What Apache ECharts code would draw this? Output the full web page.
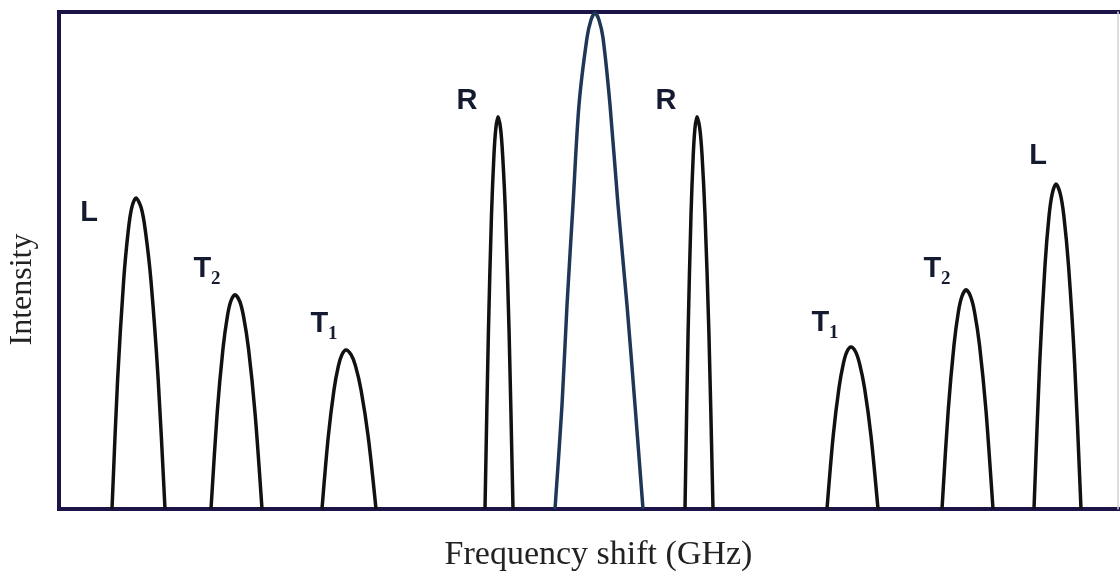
<!DOCTYPE html>
<html>
<head>
<meta charset="utf-8">
<script src="https://cdn.jsdelivr.net/npm/echarts@6/dist/echarts.min.js"></script>
<style>
html,body{margin:0;padding:0;background:#fff;}
#chart{width:1120px;height:573px;}
</style>
</head>
<body>
<div id="chart"></div>
<script>
// Frequency shift (GHz) vs intensity (% of central peak)
var peakNames = ['L', 'T2', 'T1', 'R', '', 'R', 'T1', 'T2', 'L'];

var peakL1 = [[-4.84,0],[-4.784,26.0],[-4.723,46.1],[-4.677,56.1],[-4.643,60.6],[-4.60,62.6],[-4.548,60.6],[-4.507,56.1],[-4.451,46.1],[-4.378,26.0],[-4.31,0]];
var peakT2a = [[-3.85,0],[-3.788,19.4],[-3.73,32.3],[-3.686,38.8],[-3.652,41.8],[-3.61,43.1],[-3.563,41.8],[-3.525,38.8],[-3.475,32.3],[-3.41,19.4],[-3.34,0]];
var peakT1a = [[-2.74,0],[-2.678,14.4],[-2.62,24.0],[-2.576,28.8],[-2.542,31.0],[-2.50,32.0],[-2.448,31.0],[-2.405,28.8],[-2.35,24.0],[-2.277,14.4],[-2.20,0]];
var peakRa = [[-1.11,0],[-1.076,35.5],[-1.045,59.2],[-1.021,71.0],[-1.002,76.5],[-0.98,78.9],[-0.954,76.5],[-0.933,71.0],[-0.905,59.2],[-0.869,35.5],[-0.83,0]];
var peakCenter = [[-0.41,0],[-0.34,20.9],[-0.29,41.0],[-0.23,61.2],[-0.17,81.3],[-0.09,94.8],[-0.05,98.4],[-0.01,99.8],[0.03,98.4],[0.07,94.8],[0.14,81.3],[0.22,61.2],[0.31,41.0],[0.39,20.9],[0.47,0]];
var peakRb = [[0.89,0],[0.921,35.5],[0.95,59.2],[0.972,71.0],[0.989,76.5],[1.01,78.9],[1.038,76.5],[1.061,71.0],[1.09,59.2],[1.129,35.5],[1.17,0]];
var peakT1b = [[2.31,0],[2.372,14.7],[2.43,24.4],[2.474,29.3],[2.508,31.6],[2.55,32.6],[2.597,31.6],[2.635,29.3],[2.685,24.4],[2.75,14.7],[2.82,0]];
var peakT2b = [[3.46,0],[3.522,19.8],[3.58,33.0],[3.624,39.7],[3.658,42.7],[3.70,44.1],[3.747,42.7],[3.785,39.7],[3.835,33.0],[3.90,19.8],[3.97,0]];
var peakL2 = [[4.38,0],[4.437,29.4],[4.49,49.0],[4.53,58.9],[4.562,63.4],[4.60,65.4],[4.643,63.4],[4.679,58.9],[4.725,49.0],[4.786,29.4],[4.85,0]];

var peaks = [peakL1, peakT2a, peakT1a, peakRa, peakCenter, peakRb, peakT1b, peakT2b, peakL2];

// label placement relative to each peak top (pixels) -- styling only
var labelOffsets = [[-47,15],[-28,-26],[-22,-26],[-31,-16],[0,0],[-31,-16],[-26,-24],[-29,-21],[-18,-28]];

function labelFormatter(name) {
  if (name.length === 2) return '{t|' + name.charAt(0) + '}{s|' + name.charAt(1) + '}';
  return '{t|' + name + '}';
}

var series = peaks.map(function (pts, i) {
  return {
    type: 'line',
    data: pts,
    smooth: 0.3,
    symbol: 'none',
    lineStyle: { color: i === 4 ? '#1f3656' : '#111111', width: 3.5 },
    z: 3
  };
});

var labelData = [];
peaks.forEach(function (pts, i) {
  if (!peakNames[i]) return;
  var top = pts[0];
  pts.forEach(function (p) { if (p[1] > top[1]) top = p; });
  labelData.push({
    value: top,
    label: { offset: labelOffsets[i], formatter: labelFormatter(peakNames[i]) }
  });
});

series.push({
  type: 'scatter',
  data: labelData,
  symbolSize: 1,
  itemStyle: { color: 'rgba(0,0,0,0)', opacity: 1 },
  silent: true,
  z: 5,
  label: {
    show: true,
    position: 'inside',
    opacity: 1,
    rich: {
      t: { fontFamily: 'Liberation Sans', fontWeight: 'bold', fontSize: 29, color: '#141a30', lineHeight: 30 },
      s: { fontFamily: 'Liberation Serif', fontWeight: 'bold', fontSize: 19, color: '#141a30', lineHeight: 30, padding: [20, 0, 0, 0] }
    }
  }
});

var chart = echarts.init(document.getElementById('chart'), null, { renderer: 'canvas' });
chart.setOption({
  animation: false,
  backgroundColor: '#ffffff',
  grid: {
    left: 59, top: 12, width: 1071, height: 497,
    outerBoundsMode: 'none',
    show: true, borderColor: '#1c1446', borderWidth: 4, backgroundColor: 'transparent'
  },
  xAxis: {
    type: 'value', min: -5.37, max: 5.34,
    name: 'Frequency shift (GHz)', nameLocation: 'middle', nameGap: 29,
    nameTextStyle: { fontFamily: 'Liberation Serif', fontSize: 34, color: '#222', padding: [0, 0, 0, 8] },
    axisLine: { show: false }, axisTick: { show: false }, axisLabel: { show: false }, splitLine: { show: false }
  },
  yAxis: [{
    type: 'value', min: 0, max: 100,
    name: 'Intensity', nameLocation: 'middle', nameGap: 20, nameRotate: 90,
    nameTextStyle: { fontFamily: 'Liberation Serif', fontSize: 32, color: '#222', padding: [0, 58, 0, 0] },
    axisLine: { show: false }, axisTick: { show: false }, axisLabel: { show: false }, splitLine: { show: false }
  }, {
    type: 'value', min: 0, max: 100, position: 'right', offset: -12,
    axisLine: { show: true, onZero: false, lineStyle: { color: '#d2d2da', width: 1.5 } },
    axisTick: { show: false }, axisLabel: { show: false }, splitLine: { show: false }
  }],
  series: series
});
</script>
</body>
</html>
